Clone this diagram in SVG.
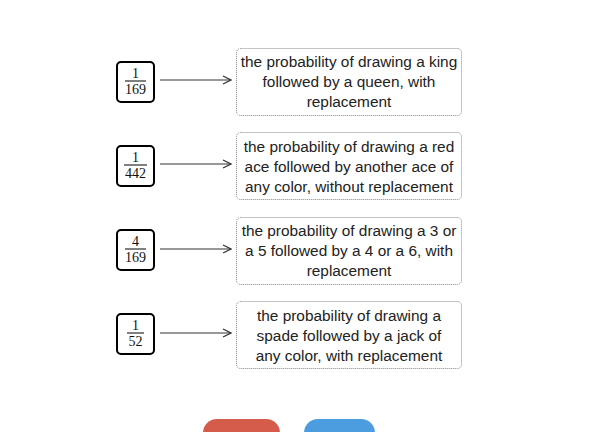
<svg xmlns="http://www.w3.org/2000/svg" width="613" height="432" viewBox="0 0 613 432">
<defs>
<style>
.frac{fill:#fff;stroke:#000;stroke-width:2}
.card{fill:#fff;stroke:#888;stroke-width:1;stroke-dasharray:1 1}
.num{font-family:"Liberation Serif","Times New Roman",serif;font-size:14px;fill:#111;text-anchor:middle}
.txt{font-family:"Liberation Sans",Arial,sans-serif;font-size:15.4px;fill:#222;text-anchor:middle}
.conn{stroke:#333;stroke-width:1;fill:none}
</style>
<marker id="arr" viewBox="0 0 10 10" refX="9" refY="5" markerWidth="10" markerHeight="10" markerUnits="userSpaceOnUse" orient="auto">
<path d="M1,1 L9,5 L1,9" fill="none" stroke="#333" stroke-width="1.2"/>
</marker>
</defs>
<rect width="613" height="432" fill="#fff"/>
<g id="connectors">
<line class="conn" x1="160" y1="80" x2="231" y2="80" marker-end="url(#arr)"/>
<line class="conn" x1="160" y1="164" x2="231" y2="164" marker-end="url(#arr)"/>
<line class="conn" x1="160" y1="249" x2="231" y2="249" marker-end="url(#arr)"/>
<line class="conn" x1="160" y1="333" x2="231" y2="333" marker-end="url(#arr)"/>
</g>
<g id="frac1">
<rect class="frac" x="117" y="62" width="37" height="40" rx="4"/>
<text class="num" x="135.5" y="78">1</text>
<line x1="125" y1="81" x2="146" y2="81" stroke="#000" stroke-width="1"/>
<text class="num" x="135.5" y="94">169</text>
</g>
<g id="frac2">
<rect class="frac" x="117" y="146" width="37" height="40" rx="4"/>
<text class="num" x="135.5" y="162">1</text>
<line x1="124" y1="165" x2="147" y2="165" stroke="#000" stroke-width="1"/>
<text class="num" x="135.5" y="178">442</text>
</g>
<g id="frac3">
<rect class="frac" x="117" y="230" width="37" height="40" rx="4"/>
<text class="num" x="135.5" y="246">4</text>
<line x1="125" y1="249" x2="146" y2="249" stroke="#000" stroke-width="1"/>
<text class="num" x="135.5" y="262">169</text>
</g>
<g id="frac4">
<rect class="frac" x="117" y="314" width="37" height="40" rx="4"/>
<text class="num" x="135.5" y="330">1</text>
<line x1="127" y1="333" x2="144" y2="333" stroke="#000" stroke-width="1"/>
<text class="num" x="135.5" y="346">52</text>
</g>
<g id="card1">
<rect class="card" x="236.5" y="48.5" width="225" height="67" rx="4"/>
<text class="txt" x="349" y="67">the probability of drawing a king</text>
<text class="txt" x="349" y="87">followed by a queen, with</text>
<text class="txt" x="349" y="107">replacement</text>
</g>
<g id="card2">
<rect class="card" x="236.5" y="132.5" width="225" height="67" rx="4"/>
<text class="txt" x="349" y="152">the probability of drawing a red</text>
<text class="txt" x="349" y="172">ace followed by another ace of</text>
<text class="txt" x="349" y="192">any color, without replacement</text>
</g>
<g id="card3">
<rect class="card" x="236.5" y="217.5" width="225" height="67" rx="4"/>
<text class="txt" x="349" y="236">the probability of drawing a 3 or</text>
<text class="txt" x="349" y="256">a 5 followed by a 4 or a 6, with</text>
<text class="txt" x="349" y="276">replacement</text>
</g>
<g id="card4">
<rect class="card" x="236.5" y="301.5" width="225" height="67" rx="4"/>
<text class="txt" x="349" y="321">the probability of drawing a</text>
<text class="txt" x="349" y="341">spade followed by a jack of</text>
<text class="txt" x="349" y="361">any color, with replacement</text>
</g>
<g id="buttons">
<rect x="203" y="419" width="77" height="40" rx="14" fill="#d55b4a"/>
<rect x="304" y="419" width="71" height="40" rx="14" fill="#4b9de0"/>
</g>
</svg>
